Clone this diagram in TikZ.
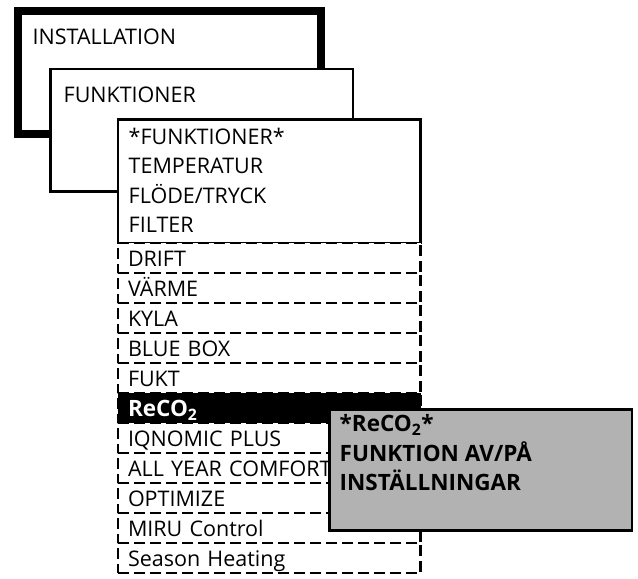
\documentclass[tikz,border=0pt]{standalone}
\usepackage{fontspec}
\setmainfont{Open Sans}
\usetikzlibrary{positioning}
\definecolor{menugray}{RGB}{178,178,178}
\newcommand{\menufont}{\fontsize{21.5}{29}\selectfont}
\newcommand{\menuboldfont}{\fontsize{22.5}{29}\selectfont\bfseries}

\begin{document}
\begin{tikzpicture}[
        x=1pt, y=-1pt,
        node distance=0pt,
        menubox/.style={draw, fill=white, line width=2.3pt, outer sep=0pt, inner sep=0pt,
                     minimum width=302.5pt, minimum height=122.5pt, anchor=north west},
        rowbox/.style={draw, fill=white, line width=2.5pt, dash pattern=on 11pt off 5pt,
                     outer sep=0pt, inner sep=0pt, minimum width=302.5pt, minimum height=30pt,
                     text width=282.5pt, text height=17pt, text depth=0pt,
                     align=left, font=\menufont},
        menutext/.style={anchor=base west, inner sep=0pt, font=\menufont},
        menubold/.style={menutext, font=\menuboldfont}
    ]
        \useasboundingbox (0,0) rectangle (638,579);
        % stacked menu levels
        \node[menubox, line width=8pt, minimum width=303.5pt, minimum height=123pt] (inst) at (17.5,11) {};
        \node[menutext] (instT) at ([xshift=15pt, yshift=-33pt]inst.north west) {INSTALLATION};
        \node[menubox] (funk) at (50.5,69) {};
        \node[menutext] (funkT) at ([xshift=13pt, yshift=-33pt]funk.north west) {FUNKTIONER};
        \node[menubox, minimum height=123.5pt] (list) at (118,119.5) {};
        \node[menutext] (listT) at ([xshift=10.5pt, yshift=-24.5pt]list.north west) {*FUNKTIONER*};
        \node[menutext] (temp) at ([yshift=-29.5pt]listT.base west) {TEMPERATUR};
        \node[menutext] (flow) at ([yshift=-29.5pt]temp.base west) {FLÖDE/TRYCK};
        \node[menutext] (filter) at ([yshift=-29.5pt]flow.base west) {FILTER};
        % scrolled items
        \node[rowbox, below=of list] (drift) {DRIFT};
        \node[rowbox, below=of drift] (heat) {VÄRME};
        \node[rowbox, below=of heat] (cool) {KYLA};
        \node[rowbox, below=of cool] (bluebox) {BLUE BOX};
        \node[rowbox, below=of bluebox] (humid) {FUKT};
        \node[rowbox, below=of humid, fill=black, text=white, font=\menuboldfont] (reco) {ReCO\textsubscript{2}};
        \node[rowbox, below=of reco] (iqnomic) {IQNOMIC PLUS};
        \node[rowbox, below=of iqnomic] (allyear) {ALL YEAR COMFORT};
        \node[rowbox, below=of allyear] (optimize) {OPTIMIZE};
        \node[rowbox, below=of optimize] (miru) {MIRU Control};
        \node[rowbox, below=of miru] (season) {Season Heating};
        % ReCO2 submenu
        \node[menubox, fill=menugray, minimum height=121pt] (recoMenu) at (329.5,409.5) {};
        \node[menubold] (recoT) at ([xshift=10pt, yshift=-22pt]recoMenu.north west) {*ReCO\textsubscript{2}*};
        \node[menubold] (recoOnOff) at ([yshift=-30pt]recoT.base west) {FUNKTION AV/PÅ};
        \node[menubold] (recoSet) at ([yshift=-29pt]recoOnOff.base west) {INSTÄLLNINGAR};
    \end{tikzpicture}
\end{document}
